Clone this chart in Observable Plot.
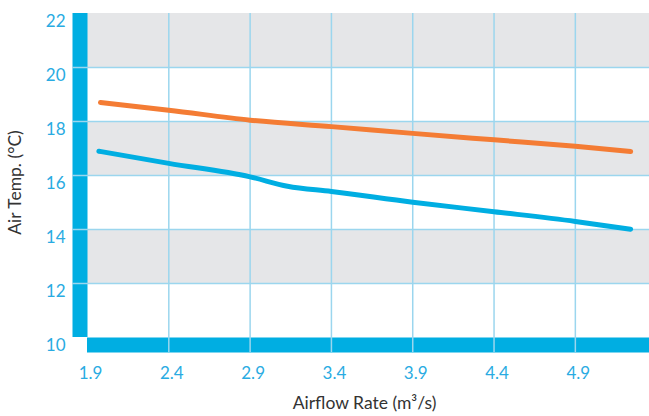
<!DOCTYPE html>
<html>
<head>
<meta charset="utf-8">
<script src="https://cdn.jsdelivr.net/npm/d3@7"></script>
<script src="https://cdn.jsdelivr.net/npm/@observablehq/plot@0.6"></script>
<style>
  html, body { margin: 0; padding: 0; background: #fff; }
  svg { font-family: Lato, "Open Sans", sans-serif; }
</style>
</head>
<body>
<div id="chart"></div>
<script>
// Data
const orangeX = [1.98, 2.4, 2.9, 3.4, 3.9, 4.4, 4.9, 5.24];
const orangeY = [18.70, 18.42, 18.05, 17.81, 17.56, 17.32, 17.08, 16.89];
const blueX = [1.97, 2.4, 2.9, 3.13, 3.4, 3.9, 4.4, 4.9, 5.24];
const blueY = [16.90, 16.45, 15.95, 15.60, 15.41, 15.01, 14.66, 14.30, 14.01];
const xTicks = [1.9, 2.4, 2.9, 3.4, 3.9, 4.4, 4.9];
const yTicks = [10, 12, 14, 16, 18, 20, 22];
const grayBands = [[12, 14], [16, 18], [20, 22]];
const xTitle = "Airflow Rate (m³/s)";
const yTitle = "Air Temp. (°C)";

const xDomain = [1.9, 5.356];
const yDomain = [10, 22];

const orange = orangeX.map((x, i) => ({x, y: orangeY[i]}));
const blue = blueX.map((x, i) => ({x, y: blueY[i]}));
const bands = grayBands.map(([y1, y2]) => ({y1, y2}));

const BLUE = "#00aee2";
const LABEL = "#29abe2";
const GRID = "#9bd6ee";

const chart = Plot.plot({
  width: 649,
  height: 416,
  marginTop: 13,
  marginBottom: 79,
  marginLeft: 87,
  marginRight: 0,
  style: {fontFamily: "Lato, 'Open Sans', sans-serif", background: "#fff"},
  x: {domain: xDomain},
  y: {domain: yDomain},
  marks: [
    Plot.rect(bands, {y1: "y1", y2: "y2", fill: "#e5e6e8"}),
    // thick axis bars
    Plot.ruleX([xDomain[0]], {y1: yDomain[0], y2: yDomain[1], stroke: BLUE, strokeWidth: 15, dx: -7.5}),
    Plot.ruleY([yDomain[0]], {x1: xDomain[0], x2: xDomain[1], stroke: BLUE, strokeWidth: 15, dy: 7.5}),
    // gridlines
    Plot.ruleY(yTicks.filter(d => d > 10 && d < 22), {stroke: GRID, strokeWidth: 1.5, insetLeft: -15}),
    Plot.ruleX(xTicks.filter(d => d > 1.9), {stroke: GRID, strokeWidth: 1.5, insetBottom: -15}),
    // series
    Plot.line(orange, {x: "x", y: "y", stroke: "#f47c34", strokeWidth: 5, strokeLinecap: "round", strokeLinejoin: "round", curve: "monotone-x"}),
    Plot.line(blue, {x: "x", y: "y", stroke: BLUE, strokeWidth: 5, strokeLinecap: "round", strokeLinejoin: "round", curve: "monotone-x"}),
    // axes
    Plot.axisY(yTicks, {tickSize: 0, tickPadding: 22, dy: 8, color: LABEL, fontSize: 17, label: null}),
    Plot.axisX(xTicks, {tickSize: 0, tickPadding: 29, dx: 3, color: LABEL, fontSize: 17, label: null, tickFormat: d => d.toFixed(1)}),
    // titles
    Plot.text([xTitle], {frameAnchor: "bottom", lineAnchor: "middle", textAnchor: "middle", dy: 66, dx: -4, fontSize: 17.5, fill: "#333"}),
    Plot.text([yTitle], {frameAnchor: "left", lineAnchor: "middle", textAnchor: "middle", rotate: -90, dx: -72, dy: 7, fontSize: 17.5, fill: "#333"})
  ]
});
document.getElementById("chart").appendChild(chart);
</script>
</body>
</html>
